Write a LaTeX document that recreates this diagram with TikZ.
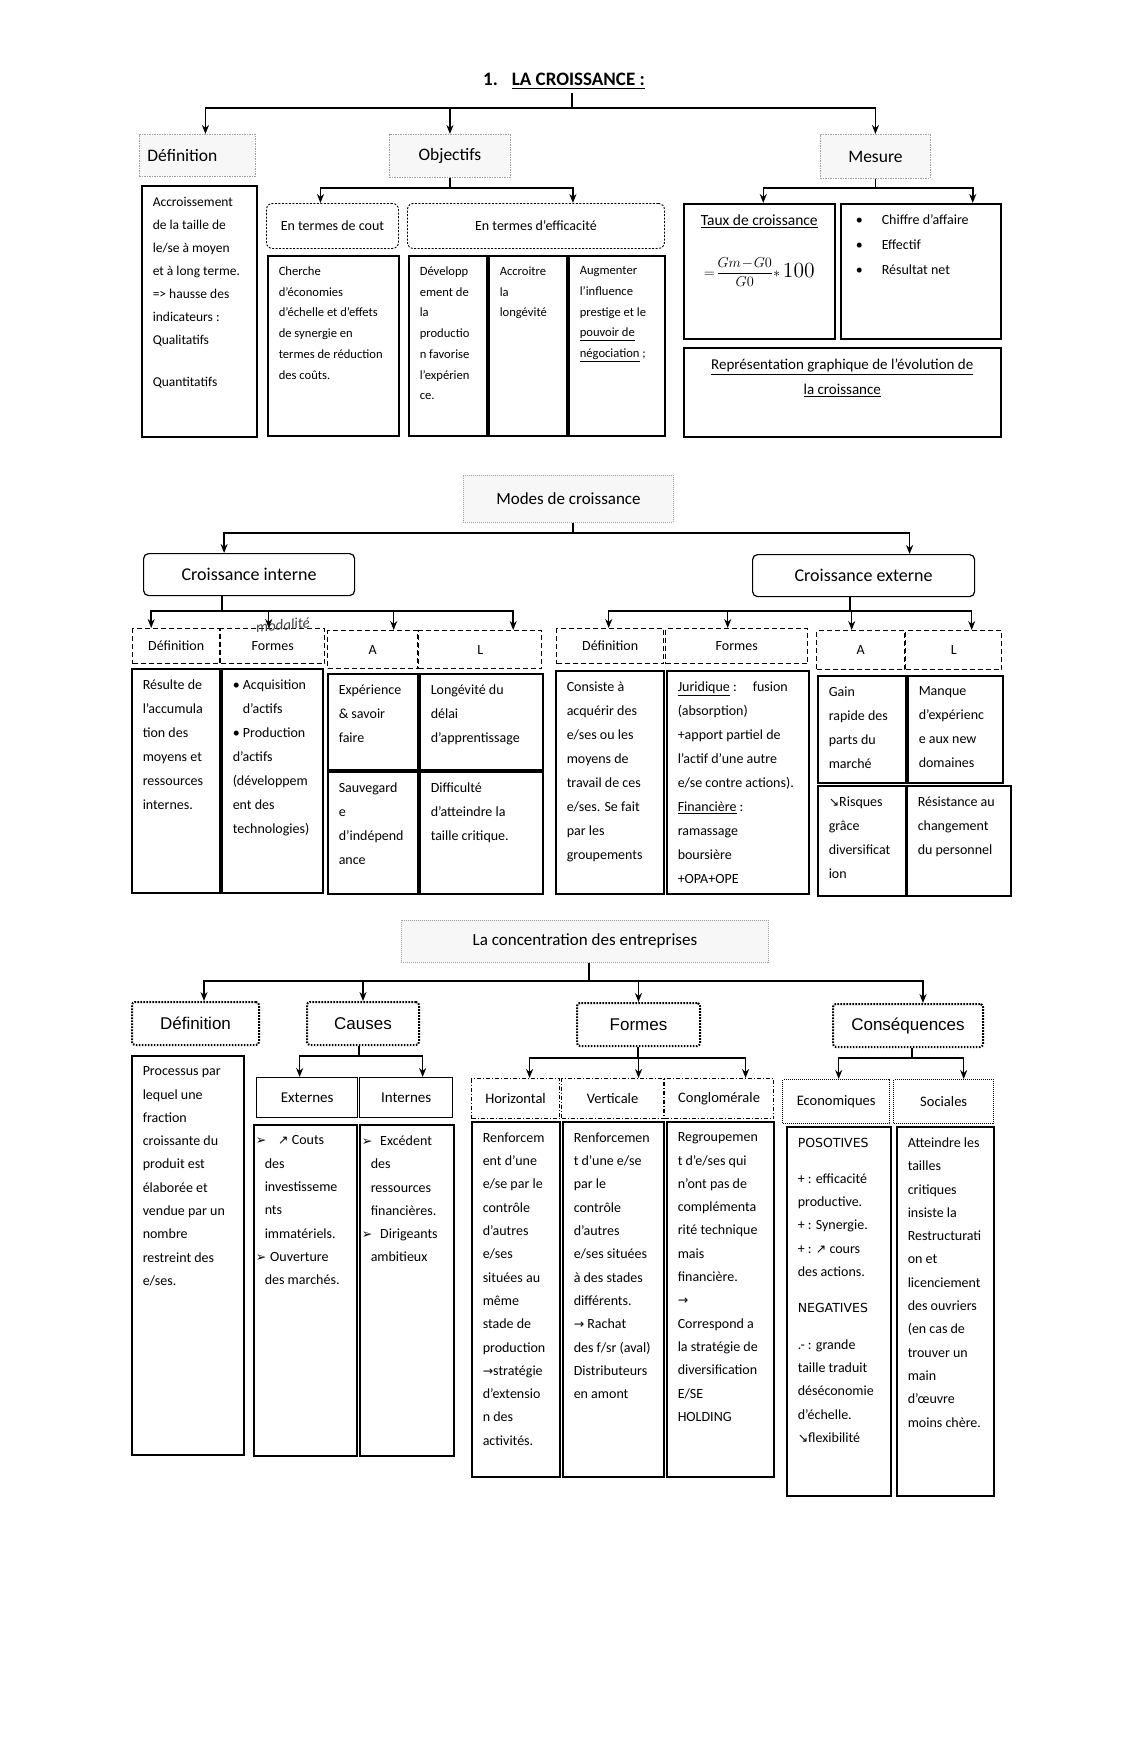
\documentclass[tikz,border=0pt]{standalone}
\usepackage{amsmath}
\usepackage{fontspec}
\setmainfont{Carlito}
\newfontfamily\arialf{Liberation Sans}
\newfontfamily\dejavu{DejaVu Sans}
\usepackage{tikz}
\usetikzlibrary{arrows.meta,positioning}

% boite de texte a hauteur fixe, texte en haut
\newcommand{\bloc}[3]{\begin{minipage}[t][\dimexpr#2pt-22pt\relax][t]{\dimexpr#1pt-22pt\relax}\raggedright #3\end{minipage}}
\newcommand{\fl}[1]{{\dejavu\fontsize{12.5}{11}\selectfont #1}}

\begin{document}
\begin{tikzpicture}[x=1pt,y=-1pt,>={Stealth[length=9pt,width=7pt]},
  fleche/.style={->,line width=1.5pt},
  trait/.style={line width=1.5pt},
  tete/.style={anchor=north west,inner sep=1pt},
  tete1/.style={tete,draw=gray!75,dash pattern=on 1.5pt off 1pt,line width=0.9pt,fill=gray!6,font=\fontsize{17.5}{18}\selectfont},
  terme/.style={tete,draw,rounded corners=6pt,dash pattern=on 2pt off 1.5pt,line width=0.9pt,font=\fontsize{14}{15}\selectfont},
  boite/.style={draw,line width=1.5pt,anchor=north west,inner sep=11pt},
  texte1/.style={boite,font=\fontsize{13.5}{23}\selectfont},
  texte1b/.style={boite,font=\fontsize{12.6}{20.7}\selectfont},
  texte2/.style={boite,font=\fontsize{14}{24}\selectfont},
  texte3/.style={boite,font=\fontsize{14}{23.3}\selectfont},
  mode/.style={tete,draw,rounded corners=5pt,line width=1.2pt,font=\fontsize{18}{18}\selectfont},
  titre2/.style={tete,draw=gray!75,dash pattern=on 1pt off 1pt,line width=0.9pt,fill=gray!6,font=\fontsize{17}{18}\selectfont},
  tete2/.style={tete,draw,dash pattern=on 5pt off 3pt,line width=1.4pt,font=\fontsize{14}{15}\selectfont},
  tete3/.style={tete,draw,rounded corners=3pt,dash pattern=on 1.6pt off 1.4pt,line width=2pt,font=\arialf\fontsize{17}{18}\selectfont},
  sous3/.style={tete,draw,line width=1.3pt,font=\fontsize{15}{16}\selectfont},
  forme3/.style={tete,draw,dash pattern=on 4pt off 2pt on 1pt off 2pt,line width=1.1pt,font=\fontsize{14.5}{15}\selectfont},
  cons3/.style={tete,draw,dash pattern=on 1pt off 1pt,line width=1.4pt,font=\fontsize{14.5}{15}\selectfont}]
\path[fill=white] (0,0) rectangle (1129,1757);
\useasboundingbox (0,0) rectangle (1129,1757);

% 1. la croissance
\node[font=\bfseries\fontsize{19}{20}\selectfont] (titre) at (564,81) {1.\hspace{14pt}\underline{LA CROISSANCE :}};
\node[tete1,minimum width=116pt,minimum height=42pt,text width=100pt] (def1) at (139,134) {Définition};
\node[tete1,minimum width=121pt,minimum height=43pt] (obj) at (389,134) {Objectifs};
\node[tete1,minimum width=110pt,minimum height=44pt] (mes) at (820,134) {Mesure};
\draw[trait] (titre.south -| 572,0) -- (572,108) coordinate (b1);
\draw[fleche] (b1) -| ([xshift=8pt]def1.north);
\draw[fleche] (b1) -| (obj.north);
\draw[fleche] (b1) -| (mes.north);

\node[texte1] (c1) at (141,185) {\bloc{115}{251}{Accroissement\\ de la taille de\\ le/se à moyen\\ et à long terme.\\ => hausse des\\ indicateurs :\\ Qualitatifs\\[19pt] Quantitatifs}};

\node[terme,minimum width=132pt,minimum height=45pt] (cout) at (266,203) {En termes de cout};
\node[terme,minimum width=257pt,minimum height=45pt] (effi) at (407,203) {En termes d’efficacité};
\draw[trait] (obj.south) -- (obj.south |- 0,188) coordinate (b1o);
\draw[fleche] (b1o) -| ([xshift=-12pt]cout.north);
\draw[fleche] (b1o) -| ([xshift=37pt]effi.north);

\node[texte1b] (ccout) at (267,255) {\bloc{131}{180}{Cherche\\ d’économies\\ d’échelle et d’effets\\ de synergie en\\ termes de réduction\\ des coûts.}};
\node[texte1b] (cdev) at (408,255) {\bloc{78}{180}{Développ\\ ement de\\ la\\ productio\\ n favorise\\ l’expérien\\ ce.}};
\node[texte1b] (cacc) at (488,255) {\bloc{78}{180}{Accroitre\\ la\\ longévité}};
\node[texte1b] (caug) at (568,255) {\bloc{96}{180}{Augmenter\\ l’influence\\ prestige et le\\ \underline{pouvoir de}\\ \underline{négociation} ;}};

\node[boite,font=\fontsize{15.5}{16}\selectfont] (taux) at (683,203) {\bloc{151}{135}{\centering\underline{Taux de croissance}\par\vspace{28pt}\fontsize{15}{20}\selectfont\mbox{$=\!\dfrac{Gm\!-\!G0}{G0}\ast$\,\scalebox{1.5}{$100$}}\par}};
\node[boite,font=\fontsize{14}{25}\selectfont] (puce) at (840,203) {\bloc{160}{135}{\hspace*{4pt}\makebox[26pt][l]{\textbullet}Chiffre d’affaire\\ \hspace*{4pt}\makebox[26pt][l]{\textbullet}Effectif\\ \hspace*{4pt}\makebox[26pt][l]{\textbullet}Résultat net}};
\draw[trait] (mes.south) -- (mes.south |- 0,188) coordinate (b1m);
\draw[fleche] (b1m) -| ([xshift=4pt]taux.north);
\draw[fleche] (b1m) -| ([xshift=52pt]puce.north);
\node[boite,font=\fontsize{15}{25}\selectfont] (repr) at (683,347) {\bloc{317}{89}{\centering\underline{Représentation graphique de l’évolution de}\\ \underline{la croissance}}};

% modes de croissance
\node[titre2,minimum width=210pt,minimum height=47pt] (modes) at (463,475) {Modes de croissance};
\node[mode,minimum width=211pt,minimum height=42pt] (ci) at (143,553) {Croissance interne};
\node[mode,minimum width=222pt,minimum height=42pt] (ce) at (752,554) {Croissance externe};
\draw[trait] (modes.south -| 573,0) -- (573,533) coordinate (b2);
\draw[fleche] (b2) -| ([xshift=-25pt]ci.north);
\draw[fleche] (b2) -| ([xshift=46pt]ce.north);

\node[tete2,minimum width=87pt,minimum height=35pt] (d2i) at (132,628) {Définition};
\node[tete2,minimum width=104pt,minimum height=35pt] (f2i) at (220,628) {Formes};
\node[tete2,minimum width=90pt,minimum height=38pt] (a2i) at (327,630) {A};
\node[tete2,minimum width=123pt,minimum height=38pt] (l2i) at (418,630) {L};
\node[font=\itshape\fontsize{15}{15}\selectfont,rotate=6,text=black!75] (modal) at (283,625) {modalité};
\draw[trait] (ci.south -| 222,0) -- (222,611) coordinate (b2i);
\draw[fleche] (b2i) -| ([xshift=-25pt]d2i.north);
\draw[fleche] (b2i) -| ([xshift=-4pt]f2i.north);
\draw[fleche] (b2i) -| ([xshift=21pt]a2i.north);
\draw[fleche] (b2i) -| ([xshift=33pt]l2i.north);

\node[texte2] (r2i) at (131,668) {\bloc{88}{224}{Résulte de\\ l’accumula\\ tion des\\ moyens et\\ ressources\\ internes.}};
\node[texte2] (acq) at (221,668) {\bloc{101}{224}{\textbullet\ Acquisition\\ \hspace*{10pt}d’actifs\\ \textbullet\ Production\\ d’actifs\\ (développem\\ ent des\\ technologies)}};
\node[texte2] (aht) at (327,673) {\bloc{90}{96}{Expérience\\ \& savoir\\ faire}};
\node[texte2] (abs) at (327,771) {\bloc{90}{122}{Sauvegard\\ e\\ d’indépend\\ ance}};
\node[texte2] (lht) at (419,673) {\bloc{123}{96}{Longévité du\\ délai\\ d’apprentissage}};
\node[texte2] (lbs) at (419,771) {\bloc{123}{122}{Difficulté\\ d’atteindre la\\ taille critique.}};

\node[tete2,minimum width=107pt,minimum height=35pt] (d2e) at (556,628) {Définition};
\node[tete2,minimum width=142pt,minimum height=35pt] (f2e) at (665,628) {Formes};
\node[tete2,minimum width=88pt,minimum height=39pt] (a2e) at (816,630) {A};
\node[tete2,minimum width=96pt,minimum height=39pt] (l2e) at (905,630) {L};
\draw[trait] (ce.south -| 850,0) -- (850,611) coordinate (b2e);
\draw[fleche] (b2e) -| ([xshift=-1.5pt]d2e.north);
\draw[fleche] (b2e) -| ([xshift=-9pt]f2e.north);
\draw[fleche] (b2e) -| ([xshift=-9pt]a2e.north);
\draw[fleche] (b2e) -| ([xshift=18pt]l2e.north);

\node[texte2] (cons) at (555,670) {\bloc{108}{223}{Consiste à\\ acquérir des\\ e/ses ou les\\ moyens de\\ travail de ces\\ e/ses. Se fait\\ par les\\ groupements}};
\node[texte2] (jur) at (666,670) {\bloc{142}{223}{\underline{Juridique} :\hspace{16pt}fusion\\ (absorption)\\ +apport partiel de\\ l’actif d’une autre\\ e/se contre actions).\\ \underline{Financière} :\\ ramassage\\ boursière\\ +OPA+OPE}};
\node[texte2] (gain) at (817,675) {\bloc{88}{107}{Gain\\ rapide des\\ parts du\\ marché}};
\node[texte2] (manq) at (907,675) {\bloc{95}{107}{Manque\\ d’expérienc\\ e aux new\\ domaines}};
\node[texte2] (risq) at (817,785) {\bloc{88}{110}{\fl{↘}Risques\\ grâce\\ diversificat\\ ion}};
\node[texte2] (resi) at (906,785) {\bloc{104}{110}{Résistance au\\ changement\\ du personnel}};

% la concentration
\node[titre2,minimum width=367pt,minimum height=42pt] (conc) at (401,920) {La concentration des entreprises};
\node[tete3,minimum width=127pt,minimum height=43pt] (def3) at (131,1001) {Définition};
\node[tete3,minimum width=112pt,minimum height=43pt] (caus) at (306,1001) {Causes};
\node[tete3,minimum width=123pt,minimum height=43pt] (form3) at (576,1002) {Formes};
\node[tete3,minimum width=150pt,minimum height=43pt] (consq) at (832,1003) {Conséquences};
\draw[trait] (conc.south -| 589,0) -- (589,981) coordinate (b3);
\draw[fleche] (b3) -| ([xshift=8.5pt]def3.north);
\draw[fleche] (b3) -| (caus.north);
\draw[fleche] (b3) -| (form3.north);
\draw[fleche] (b3) -| ([xshift=15pt]consq.north);

\node[texte3] (defc) at (131,1055) {\bloc{112}{399}{Processus par\\ lequel une\\ fraction\\ croissante du\\ produit est\\ élaborée et\\ vendue par un\\ nombre\\ restreint des\\ e/ses.}};

\node[sous3,minimum width=101pt,minimum height=40pt] (ext) at (256,1077) {Externes};
\node[sous3,minimum width=93pt,minimum height=40pt] (int) at (359,1077) {Internes};
\draw[trait] (caus.south -| 359,0) -- (359,1056) coordinate (b3c);
\draw[fleche] (b3c) -| ([xshift=-7.5pt]ext.north);
\draw[fleche] (b3c) -| ([xshift=16.5pt]int.north);
\node[texte3] (extc) at (253,1124) {\bloc{103}{331}{\hspace*{-9pt}\fl{➢}\hspace{12pt}\fl{↗} Couts\\ des\\ investisseme\\ nts\\ immatériels.\\ \hspace*{-9pt}\fl{➢}\hspace{4pt}Ouverture\\ des marchés.}};
\node[texte3] (intc) at (359,1124) {\bloc{94}{331}{\hspace*{-9pt}\fl{➢}\hspace{8pt}Excédent\\ des\\ ressources\\ financières.\\ \hspace*{-9pt}\fl{➢}\hspace{8pt}Dirigeants\\ ambitieux}};

\node[forme3,minimum width=88pt,minimum height=40pt] (hor) at (471,1078) {Horizontal};
\node[forme3,minimum width=102pt,minimum height=40pt] (ver) at (561,1078) {Verticale};
\node[forme3,minimum width=109pt,minimum height=40pt] (cong) at (664,1078) {Conglomérale};
\draw[trait] (form3.south -| 638,0) -- (638,1058) coordinate (b3f);
\draw[fleche] (b3f) -| ([xshift=14pt]hor.north);
\draw[fleche] (b3f) -| ([xshift=26pt]ver.north);
\draw[fleche] (b3f) -| ([xshift=26.5pt]cong.north);
\node[texte3] (horc) at (471,1121) {\bloc{88}{355}{Renforcem\\ ent d’une\\ e/se par le\\ contrôle\\ d’autres\\ e/ses\\ situées au\\ même\\ stade de\\ production\\ \fl{→}stratégie\\ d’extensio\\ n des\\ activités.}};
\node[texte3] (verc) at (562,1121) {\bloc{101}{355}{Renforcemen\\ t d’une e/se\\ par le\\ contrôle\\ d’autres\\ e/ses situées\\ à des stades\\ différents.\\ \fl{→} Rachat\\ des f/sr (aval)\\ Distributeurs\\ en amont}};
\node[texte3] (congc) at (666,1121) {\bloc{107}{355}{Regroupemen\\ t d’e/ses qui\\ n’ont pas de\\ complémenta\\ rité technique\\ mais\\ financière.\\ \fl{→}\\ Correspond a\\ la stratégie de\\ diversification\\ E/SE\\ HOLDING}};

\node[cons3,minimum width=107pt,minimum height=44pt] (eco) at (782,1079) {Economiques};
\node[cons3,minimum width=100pt,minimum height=44pt] (soc) at (893,1079) {Sociales};
\draw[trait] (consq.south -| 912,0) -- (912,1058) coordinate (b3q);
\draw[fleche] (b3q) -| ([xshift=2.5pt]eco.north);
\draw[fleche] (b3q) -| ([xshift=20pt]soc.north);
\node[texte3] (ecoc) at (786,1126) {\bloc{104}{369}{{\dejavu\fontsize{12.5}{14}\selectfont POSOTIVES}\\[13pt] + : efficacité\\ productive.\\ + : Synergie.\\ + : \fl{↗} cours\\ des actions.\\[13pt] {\dejavu\fontsize{12.5}{14}\selectfont NEGATIVES}\\[13pt] .- : grande\\ taille traduit\\ déséconomie\\ d’échelle.\\ \fl{↘}flexibilité}};
\node[texte3] (socc) at (896,1126) {\bloc{97}{369}{Atteindre les\\ tailles\\ critiques\\ insiste la\\ Restructurati\\ on et\\ licenciement\\ des ouvriers\\ (en cas de\\ trouver un\\ main\\ d’œuvre\\ moins chère.}};
\end{tikzpicture}
\end{document}
